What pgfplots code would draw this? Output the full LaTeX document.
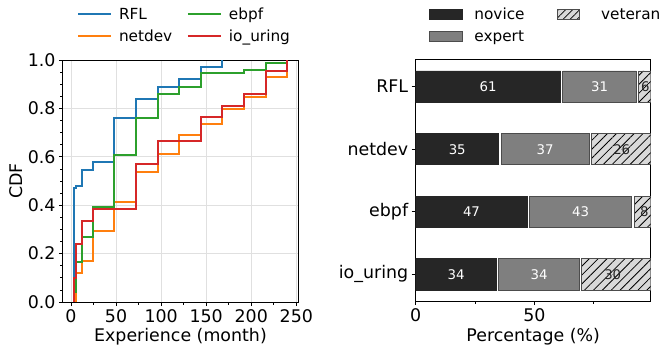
\documentclass[border=0pt]{standalone}
\usepackage{fontspec}
\setmainfont{DejaVu Sans}
\usepackage{pgfplots}
\pgfplotsset{compat=1.18}
\usetikzlibrary{patterns.meta}
\definecolor{tabblue}{HTML}{1F77B4}
\definecolor{taborange}{HTML}{FF7F0E}
\definecolor{tabgreen}{HTML}{2CA02C}
\definecolor{tabred}{HTML}{D62728}
\definecolor{novice}{HTML}{262626}
\definecolor{expert}{HTML}{7F7F7F}
\definecolor{vet}{HTML}{D9D9D9}
\newcommand{\fs}{\fontsize{17.4}{20}\selectfont}
\newcommand{\fg}{\fontsize{15.3}{18}\selectfont}
\newcommand{\fl}{\fontsize{13.3}{15}\selectfont}
\pgfplotsset{common/.style={scale only axis, anchor=south west, tick align=outside, tick pos=left,
  major tick length=4pt, minor tick length=2.5pt, tick style={black, line width=0.8pt},
  axis line style={line width=1pt, black}, tick label style={font=\fs}, label style={font=\fs},
  /pgf/number format/assume math mode=true},
  leg/.style={legend columns=2,
  legend style={draw=none, fill=none, inner sep=0pt, outer sep=0pt, anchor=north west,
    column sep=0pt, row sep=7pt, font=\fg,
    nodes={inner sep=0pt, text height=11.5pt, text depth=3.5pt, anchor=base west}}}}
\begin{document}
\begin{tikzpicture}
\useasboundingbox (0,0) rectangle (661pt,349pt);
% ---------------- left: CDF ----------------
\begin{axis}[common, leg, at={(63pt,47pt)}, width=235pt, height=242pt,
  xmin=-8.85, xmax=251.85, ymin=0, ymax=1,
  xtick={0,50,100,150,200,250}, ytick={0,0.2,0.4,0.6,0.8,1},
  minor x tick num=1, minor y tick num=3,
  yticklabel style={/pgf/number format/fixed, /pgf/number format/fixed zerofill, /pgf/number format/precision=1},
  grid=major, major grid style={black!12, line width=0.8pt},
  xlabel={Experience (month)}, ylabel={CDF},
  xlabel style={at={(axis description cs:0.5,-0.164)}, anchor=base},
  ylabel style={at={(axis description cs:-0.1715,0.5)}, anchor=base},
  legend style={at={(axis description cs:0.0596,1.2145)}},
]
\addlegendimage{legend image code/.code={\path[draw=none,fill=none] (0pt,0pt) -- (41pt,0pt); \draw[tabblue, line width=2pt] (0pt,5.6pt) -- (33pt,5.6pt);}}
\addlegendentry{RFL}
\addlegendimage{legend image code/.code={\path[draw=none,fill=none] (0pt,0pt) -- (56.7pt,0pt); \draw[tabgreen, line width=2pt] (15.7pt,5.6pt) -- (48.7pt,5.6pt);}}
\addlegendentry{ebpf}
\addlegendimage{legend image code/.code={\path[draw=none,fill=none] (0pt,0pt) -- (41pt,0pt); \draw[taborange, line width=2pt] (0pt,5.6pt) -- (33pt,5.6pt);}}
\addlegendentry{netdev}
\addlegendimage{legend image code/.code={\path[draw=none,fill=none] (0pt,0pt) -- (56.7pt,0pt); \draw[tabred, line width=2pt] (15.7pt,5.6pt) -- (48.7pt,5.6pt);}}
\addlegendentry{io\_uring}
\addplot[const plot, tabblue, line width=2pt] coordinates {
(3,0) (3,0.470) (6,0.481) (12,0.545) (24,0.577) (48,0.762) (72,0.840) (96,0.887) (120,0.921) (144,0.970) (168,1.0)};
\addplot[const plot, taborange, line width=2pt] coordinates {
(6,0) (6,0.121) (12,0.169) (24,0.295) (48,0.415) (72,0.536) (96,0.612) (120,0.690) (144,0.736) (168,0.798) (192,0.847) (216,0.928) (240,1.0)};
\addplot[const plot, tabgreen, line width=2pt] coordinates {
(3,0) (3,0.043) (6,0.167) (12,0.269) (24,0.394) (48,0.607) (72,0.762) (96,0.860) (120,0.890) (144,0.948) (192,0.959) (216,0.989) (240,1.0)};
\addplot[const plot, tabred, line width=2pt] coordinates {
(3,0) (3,0.098) (6,0.240) (12,0.335) (24,0.383) (72,0.570) (96,0.667) (144,0.763) (168,0.810) (192,0.858) (216,0.956) (240,1.0)};
\end{axis}
% ---------------- right: stacked bars ----------------
\begin{axis}[common, leg, at={(415.7pt,48pt)}, width=235pt, height=241pt,
  xmin=0, xmax=99, ymin=-0.425, ymax=3.425,
  xbar stacked, bar width=0.5,
  xtick={0,50}, minor xtick={25,75},
  ytick={0,1,2,3}, yticklabels={io\_uring,ebpf,netdev,RFL},
  xlabel={Percentage (\%)},
  xlabel style={at={(axis description cs:0.5,-0.170)}, anchor=base},
  legend style={at={(axis description cs:0.0579,1.2153)}},
]
\addlegendimage{legend image code/.code={\path[draw=none,fill=none] (0pt,0pt) -- (44.7pt,0pt);
  \draw[fill=novice, draw=black!85, line width=0.8pt] (0pt,0.6pt) rectangle (33pt,10.6pt);}}
\addlegendentry{novice}
\addlegendimage{legend image code/.code={\path[draw=none,fill=none] (0pt,0pt) -- (76.5pt,0pt);
  \draw[fill=vet, draw=black!70, line width=0.8pt, postaction={pattern={Lines[angle=45,distance=5pt,line width=0.7pt]}, pattern color=black}] (32.5pt,0.6pt) rectangle (55.1pt,10.6pt);}}
\addlegendentry{veteran}
\addlegendimage{legend image code/.code={\path[draw=none,fill=none] (0pt,0pt) -- (44.7pt,0pt);
  \draw[fill=expert, draw=black!70, line width=0.8pt] (0pt,0.6pt) rectangle (33pt,10.6pt);}}
\addlegendentry{expert}
\addplot[fill=novice, draw=black!85, line width=0.8pt] coordinates {(34,0) (47,1) (35,2) (61,3)};
\addplot[draw=none, fill=none] coordinates {(1,0) (1,1) (1,2) (1,3)};
\addplot[fill=expert, draw=black!70, line width=0.8pt] coordinates {(34,0) (43,1) (37,2) (31,3)};
\addplot[draw=none, fill=none] coordinates {(1,0) (1,1) (1,2) (1,3)};
\addplot[fill=vet, draw=black!70, line width=0.8pt,
  postaction={pattern={Lines[angle=45,distance=6.3pt,line width=0.8pt]}, pattern color=black}]
  coordinates {(30,0) (8,1) (26,2) (6,3)};
\end{axis}
% ---------------- bar value labels ----------------
\begin{axis}[at={(415.7pt,48pt)}, anchor=south west, scale only axis, width=235pt, height=241pt,
  xmin=0, xmax=99, ymin=-0.425, ymax=3.425, hide axis, clip=false]
\addplot[only marks, mark=*, mark size=0.01pt, mark options={draw=none, fill=none},
  point meta=explicit symbolic, nodes near coords={\pgfplotspointmeta},
  every node near coord/.append style={anchor=center, font=\fl, text=white, inner sep=0pt}]
  table[meta=label] {
x y label
30.5 3 61
77.5 3 31
17.5 2 35
54.5 2 37
23.5 1 47
69.5 1 43
17 0 34
52 0 34
};
\addplot[only marks, mark=*, mark size=0.01pt, mark options={draw=none, fill=none},
  point meta=explicit symbolic, nodes near coords={\pgfplotspointmeta},
  every node near coord/.append style={anchor=center, font=\fl, text=novice, inner sep=0pt}]
  table[meta=label] {
x y label
96.8 3 6
86.8 2 26
96.3 1 8
83 0 30
};
\end{axis}
\end{tikzpicture}
\end{document}
